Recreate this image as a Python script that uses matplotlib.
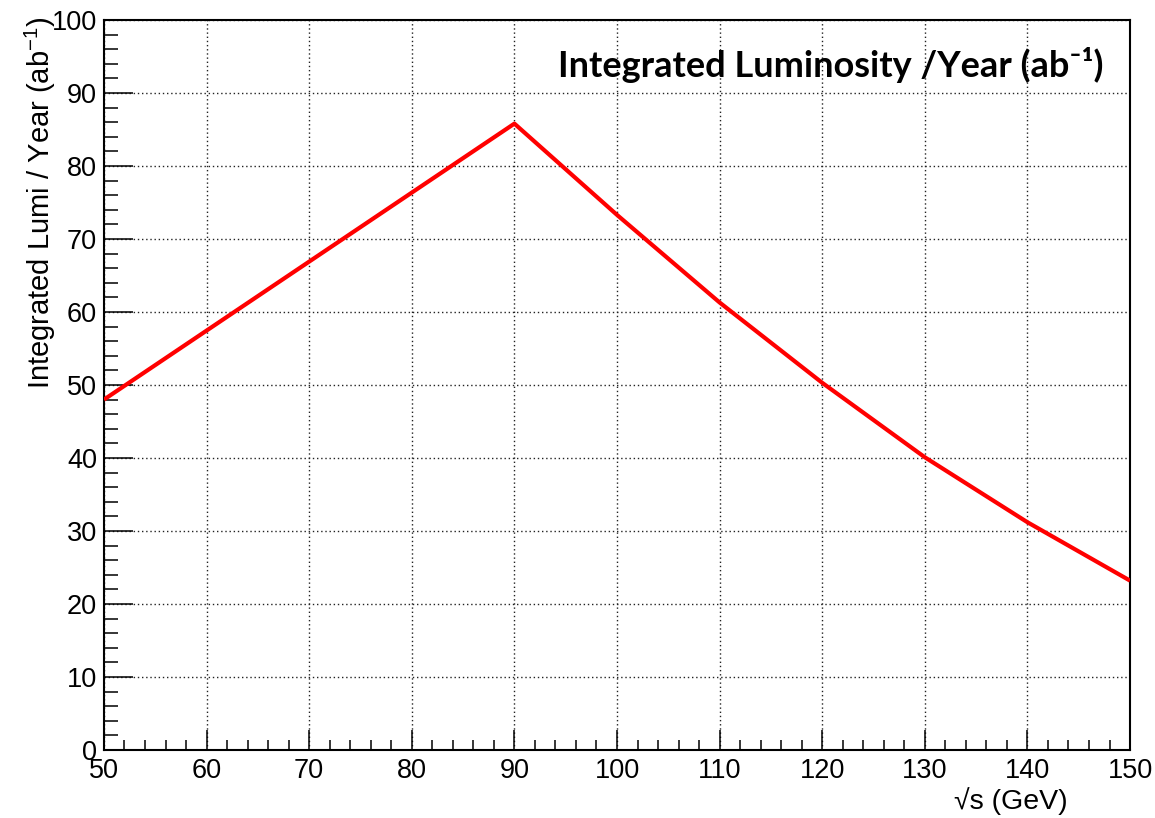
import matplotlib
matplotlib.use("Agg")
import matplotlib.pyplot as plt
from matplotlib.ticker import MultipleLocator

plt.rcParams['font.family'] = ['Liberation Sans', 'DejaVu Sans']
plt.rcParams['mathtext.fontset'] = 'custom'
plt.rcParams['mathtext.rm'] = 'Liberation Sans'
plt.rcParams['mathtext.default'] = 'regular'

# centre-of-mass energy (GeV) and integrated luminosity per year (ab^-1)
sqrt_s = [50, 90, 100, 110, 120, 130, 140, 150]
lumi_per_year = [48.0, 85.8, 73.3, 61.3, 50.3, 40.1, 31.2, 23.2]

x_ticks = [50, 60, 70, 80, 90, 100, 110, 120, 130, 140, 150]
y_ticks = [0, 10, 20, 30, 40, 50, 60, 70, 80, 90, 100]

fig = plt.figure(figsize=(11.55, 8.18), dpi=100)
ax = fig.add_axes([0.0900, 0.0831, 0.8884, 0.8925])

ax.plot(sqrt_s, lumi_per_year, color='#ff0000', linewidth=3.0,
        solid_joinstyle='round', solid_capstyle='butt', zorder=5)

ax.set_xlim(50, 150)
ax.set_ylim(0, 100)
ax.set_xticks(x_ticks)
ax.set_yticks(y_ticks)
ax.xaxis.set_minor_locator(MultipleLocator(2))
ax.yaxis.set_minor_locator(MultipleLocator(2))

ax.grid(True, which='major', color='#222222', linestyle=(0, (1, 2)), linewidth=1.0)

ax.tick_params(axis='x', which='major', direction='in', length=14.5, width=1.1,
               labelsize=19.5, pad=6, top=False)
ax.tick_params(axis='x', which='minor', direction='in', length=7.2, width=1.1, top=False)
ax.tick_params(axis='y', which='major', direction='in', length=21, width=1.1,
               labelsize=19.5, pad=5, right=False)
ax.tick_params(axis='y', which='minor', direction='in', length=10, width=1.1, right=False)

for sp in ax.spines.values():
    sp.set_linewidth(1.5)

fig.text(40 / 1155, 1 - 16 / 818, 'Integrated Lumi / Year (ab$^{-1}$)',
         rotation=90, ha='center', va='top', fontsize=21)
fig.text(1068 / 1155, 1 - 801 / 818, '\u221as (GeV)', ha='right', va='center',
         fontsize=20.5)
fig.text(1103 / 1155, 1 - 65 / 818, 'Integrated Luminosity /Year (ab\u207b\u00b9)',
         ha='right', va='center', fontsize=26, fontweight='bold',
         family=['Lato', 'DejaVu Sans'])

fig.savefig('out.png', dpi=100, facecolor='white')
